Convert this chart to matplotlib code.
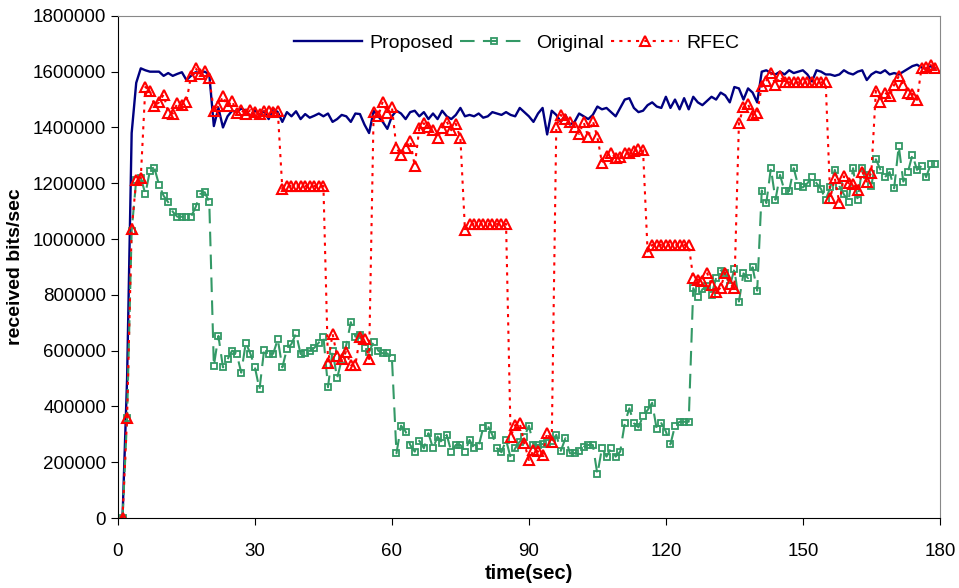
import numpy as np
import matplotlib.pyplot as plt

plt.rcParams['font.family'] = ['Liberation Sans', 'DejaVu Sans']

# time axis, one sample per second
time = np.arange(1, 180)

proposed_k = [
    0, 500, 1380, 1560, 1612, 1605, 1600, 1600, 1600, 1585,
    1595, 1585, 1592, 1598, 1570, 1585, 1598, 1595, 1600, 1590,
    1405, 1470, 1400, 1440, 1460, 1455, 1468, 1460, 1440, 1462,
    1445, 1458, 1430, 1468, 1455, 1420, 1455, 1440, 1458, 1430,
    1448, 1435, 1442, 1450, 1440, 1450, 1420, 1430, 1445, 1440,
    1420, 1450, 1448, 1410, 1380, 1460, 1440, 1420, 1395, 1440,
    1460, 1450, 1430, 1455, 1460, 1440, 1455, 1430, 1450, 1430,
    1460, 1440, 1430, 1445, 1470, 1440, 1445, 1440, 1450, 1435,
    1440, 1455, 1450, 1445, 1455, 1445, 1440, 1470, 1455, 1440,
    1420, 1450, 1470, 1375, 1460, 1445, 1420, 1445, 1410, 1420,
    1450, 1440, 1430, 1445, 1475, 1465, 1470, 1455, 1440, 1470,
    1500, 1505, 1470, 1455, 1460, 1480, 1490, 1475, 1470, 1510,
    1470, 1500, 1465, 1505, 1465, 1510, 1490, 1480, 1495, 1510,
    1500, 1525, 1515, 1490, 1545, 1540, 1500, 1540, 1525, 1490,
    1600, 1605, 1595, 1590, 1600, 1590, 1605, 1595, 1600, 1605,
    1590, 1565, 1605, 1600, 1590, 1590, 1585, 1590, 1605, 1595,
    1590, 1600, 1605, 1570, 1590, 1600, 1595, 1605, 1590, 1595,
    1590, 1600, 1610, 1620, 1625, 1615, 1610, 1620, 1612,
]

original_k = [
    0, 360, 1030, 1212, 1220, 1162, 1245, 1254, 1194, 1155,
    1132, 1098, 1080, 1080, 1080, 1080, 1114, 1161, 1168, 1132,
    545, 653, 540, 569, 600, 589, 521, 629, 589, 540,
    461, 602, 589, 589, 641, 540, 606, 624, 662, 588,
    590, 600, 610, 629, 650, 469, 600, 501, 568, 620,
    702, 650, 655, 610, 595, 632, 600, 590, 590, 573,
    232, 331, 310, 262, 238, 277, 250, 304, 250, 292,
    270, 298, 238, 262, 262, 238, 280, 250, 258, 324,
    331, 298, 250, 236, 280, 216, 250, 274, 290, 331,
    262, 262, 265, 270, 275, 298, 241, 286, 232, 232,
    240, 255, 262, 262, 157, 250, 220, 250, 220, 238,
    340, 393, 340, 325, 366, 387, 413, 318, 340, 310,
    264, 331, 345, 345, 345, 824, 791, 820, 830, 800,
    860, 887, 880, 830, 892, 776, 877, 860, 899, 815,
    1174, 1129, 1254, 1141, 1230, 1172, 1172, 1254, 1190, 1185,
    1200, 1222, 1200, 1179, 1140, 1185, 1248, 1190, 1160, 1134,
    1254, 1141, 1254, 1230, 1190, 1286, 1248, 1222, 1240, 1182,
    1334, 1206, 1240, 1302, 1248, 1262, 1222, 1268, 1268,
]

rfec_k = [
    0, 360, 1036, 1210, 1220, 1545, 1530, 1478, 1490, 1518,
    1452, 1450, 1487, 1482, 1493, 1585, 1612, 1592, 1604, 1577,
    1460, 1477, 1511, 1478, 1496, 1452, 1462, 1448, 1462, 1455,
    1450, 1458, 1458, 1455, 1460, 1180, 1190, 1190, 1190, 1190,
    1190, 1190, 1190, 1190, 1190, 556, 660, 580, 570, 596,
    549, 549, 650, 640, 570, 1457, 1440, 1493, 1451, 1473,
    1326, 1302, 1326, 1352, 1262, 1397, 1415, 1400, 1390, 1361,
    1398, 1421, 1390, 1413, 1361, 1033, 1054, 1054, 1054, 1054,
    1054, 1054, 1054, 1054, 1054, 292, 333, 340, 268, 208,
    244, 239, 226, 306, 274, 1403, 1445, 1430, 1420, 1400,
    1377, 1419, 1365, 1424, 1365, 1274, 1298, 1310, 1290, 1295,
    1310, 1310, 1315, 1322, 1318, 955, 979, 979, 979, 979,
    979, 979, 979, 979, 979, 860, 855, 848, 880, 835,
    809, 826, 880, 839, 825, 1415, 1473, 1483, 1445, 1451,
    1549, 1568, 1595, 1553, 1583, 1562, 1562, 1562, 1562, 1562,
    1562, 1562, 1562, 1562, 1562, 1147, 1218, 1129, 1225, 1200,
    1198, 1176, 1242, 1206, 1238, 1532, 1493, 1525, 1511, 1553,
    1583, 1553, 1525, 1520, 1499, 1613, 1618, 1624, 1613,
]

proposed = np.array(proposed_k) * 1000
original = np.array(original_k) * 1000
rfec = np.array(rfec_k) * 1000

fig = plt.figure(figsize=(9.59, 5.88), dpi=100)
ax = fig.add_axes([0.123, 0.119, 0.857, 0.854])

ax.plot(time, proposed, color='#000080', lw=1.7, label='Proposed')
ax.plot(time, original, color='#339966', lw=1.5, dashes=(7, 4),
        marker='s', markersize=5, markerfacecolor='none',
        markeredgewidth=1.3, label='Original')
ax.plot(time, rfec, color='#FF0000', lw=1.5, dashes=(1.5, 2.5),
        marker='^', markersize=6.5, markerfacecolor='none',
        markeredgewidth=1.5, label='RFEC')

ax.set_xlim(0, 180)
ax.set_ylim(0, 1800000)
ax.set_xticks(np.arange(0, 181, 30))
ax.set_yticks(np.arange(0, 1800001, 200000))
ax.set_yticklabels([str(v) for v in range(0, 1800001, 200000)])
ax.tick_params(labelsize=13.5, direction='out', length=5)
ax.tick_params(axis='x', pad=13)
ax.set_xlabel('time(sec)', fontsize=14.5, fontweight='bold', labelpad=3)
ax.set_ylabel('received bits/sec', fontsize=14, fontweight='bold', labelpad=6)

for s in ['top', 'right']:
    ax.spines[s].set_color('#888888')
ax.tick_params(top=False, right=False)

ax.legend(loc='center', ncol=3, frameon=False, fontsize=14,
          handlelength=3.5, columnspacing=0.35, handletextpad=0.4,
          bbox_to_anchor=(0.485, 1 - 27 / 502))

fig.savefig('out.png', dpi=100)
